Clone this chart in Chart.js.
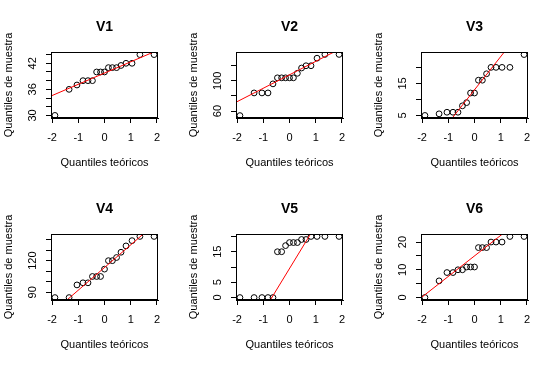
<!DOCTYPE html>
<html>
<head>
<meta charset="utf-8">
<script src="https://cdn.jsdelivr.net/npm/chart.js@4/dist/chart.umd.min.js"></script>
<style>
  body { margin: 0; background: #fff; }
  #wrap { position: relative; width: 554px; height: 365px; overflow: hidden; }
  .panel { position: absolute; width: 185px; height: 182px; }
</style>
</head>
<body>
<div id="wrap"></div>
<script>
Chart.defaults.font.family = "'Liberation Sans', Arial, sans-serif";
Chart.defaults.color = '#000';

// cuantiles teóricos (eje x), iguales en los seis paneles
const teoricos = [-1.89, -1.35, -1.05, -0.82, -0.63, -0.46, -0.30, -0.15, 0, 0.15, 0.30, 0.46, 0.63, 0.82, 1.05, 1.35, 1.89];

// cuantiles de muestra (ordenados)
const v1 = [30, 36, 37, 38, 38, 38, 40, 40, 40, 41, 41, 41, 41.5, 42, 42, 44, 44];
const v2 = [54, 84, 84, 84, 96, 104, 104, 104, 104, 104, 110, 117, 120, 120, 130, 135, 135];
const v3 = [5, 5.5, 6, 6, 6, 8, 9, 12, 12, 16, 16, 18, 20, 20, 20, 20, 24];
const v4 = [85, 85, 97, 99, 99, 105, 105, 105, 112, 120, 120, 123, 128, 134, 139, 143, 143];
const v5 = [0, 0, 0, 0, 0, 15, 15, 17, 18, 18, 18, 19, 19, 20, 20, 20, 20];
const v6 = [0, 6, 9, 9, 10, 10, 11, 11, 11, 18, 18, 18, 20, 20, 20, 22, 22];

const titles = ['V1', 'V2', 'V3', 'V4', 'V5', 'V6'];
const series = [v1, v2, v3, v4, v5, v6];

// recta qqline (ordenada y pendiente)
const lineIntercept = [39.75, 108, 13, 113.5, 9.5, 15];
const lineSlope = [2.59, 17.8, 10.38, 21.5, 14.08, 7.41];

// rangos y marcas del eje y
const yMin = [29.4, 50.8, 4.2, 82.7, -0.8, -0.9];
const yMax = [44.6, 138.2, 24.8, 145.3, 20.8, 22.9];
const yTicks = [
  [30, 32, 34, 36, 38, 40, 42, 44],
  [60, 80, 100, 120],
  [5, 10, 15, 20],
  [90, 100, 110, 120, 130, 140],
  [0, 5, 10, 15, 20],
  [0, 5, 10, 15, 20]
];
const yTickLabels = [
  ['30', '', '', '36', '', '', '42', ''],
  ['60', '', '100', ''],
  ['5', '', '15', ''],
  ['90', '', '', '120', '', ''],
  ['0', '5', '', '15', ''],
  ['0', '', '10', '', '20']
];
const xTicks = [-2, -1, 0, 1, 2];
const xMin = -2.04, xMax = 2.04;

const xLabel = 'Quantiles teóricos';
const yLabel = 'Quantiles de muestra';

// textos y caja al estilo de R
const rDecor = {
  id: 'rDecor',
  afterDraw(chart) {
    const { ctx, chartArea: a } = chart;
    const i = chart.options.plugins.rDecor.index;
    const ys = chart.scales.y;
    const cx = (a.left + a.right) / 2;
    const cy = (a.top + a.bottom) / 2;
    ctx.save();
    ctx.strokeStyle = '#000';
    ctx.lineWidth = 1;
    ctx.strokeRect(a.left + 0.5, a.top + 0.5, a.right - a.left - 1, a.bottom - a.top - 1);
    ctx.fillStyle = '#000';
    ctx.textAlign = 'center';
    ctx.textBaseline = 'middle';
    ctx.font = "bold 14px 'Liberation Sans', Arial, sans-serif";
    ctx.fillText(titles[i], cx, 27);
    ctx.font = "11px 'Liberation Sans', Arial, sans-serif";
    ctx.fillText(xLabel, cx, 163);
    // etiquetas del eje y, giradas
    yTicks[i].forEach((v, k) => {
      const lab = yTickLabels[i][k];
      if (!lab) return;
      const py = ys.getPixelForValue(v);
      ctx.save();
      ctx.translate(33, py);
      ctx.rotate(-Math.PI / 2);
      ctx.fillText(lab, 0, 0);
      ctx.restore();
    });
    ctx.save();
    ctx.translate(9, cy);
    ctx.rotate(-Math.PI / 2);
    ctx.fillText(yLabel, 0, 0);
    ctx.restore();
    ctx.restore();
  }
};

const wrap = document.getElementById('wrap');

series.forEach((vals, i) => {
  const div = document.createElement('div');
  div.className = 'panel';
  div.style.left = (i % 3) * 185 + 'px';
  div.style.top = Math.floor(i / 3) * 182 + 'px';
  const canvas = document.createElement('canvas');
  canvas.width = 185;
  canvas.height = 182;
  div.appendChild(canvas);
  wrap.appendChild(div);

  const pts = vals.map((v, k) => ({ x: teoricos[k], y: v }));
  const lineData = [xMin, xMax].map(x => ({ x: x, y: lineIntercept[i] + lineSlope[i] * x }));

  new Chart(canvas.getContext('2d'), {
    type: 'scatter',
    data: {
      datasets: [
        {
          data: lineData,
          showLine: true,
          borderColor: '#ff0000',
          borderWidth: 1,
          pointRadius: 0,
          order: 0
        },
        {
          data: pts,
          pointStyle: 'circle',
          pointRadius: 2.9,
          borderColor: '#000',
          borderWidth: 1,
          backgroundColor: 'rgba(0,0,0,0)',
          order: 1
        }
      ]
    },
    options: {
      responsive: false,
      animation: false,
      layout: { padding: { left: 0, top: 52, right: 27, bottom: 0 } },
      plugins: {
        legend: { display: false },
        tooltip: { enabled: false },
        rDecor: { index: i }
      },
      scales: {
        x: {
          type: 'linear',
          min: xMin,
          max: xMax,
          afterBuildTicks: (s) => { s.ticks = xTicks.map(v => ({ value: v })); },
          afterFit: (s) => { s.height = 64; },
          ticks: {
            autoSkip: false,
            maxRotation: 0,
            padding: 8,
            font: { size: 11 },
            callback: (v) => String(v)
          },
          grid: { drawOnChartArea: false, drawTicks: true, tickLength: 5, color: '#000' },
          border: { display: true, color: '#000' }
        },
        y: {
          type: 'linear',
          min: yMin[i],
          max: yMax[i],
          afterBuildTicks: (s) => { s.ticks = yTicks[i].map(v => ({ value: v })); },
          afterFit: (s) => { s.width = 51; },
          ticks: { autoSkip: false, callback: () => '' },
          grid: { drawOnChartArea: false, drawTicks: true, tickLength: 5, color: '#000' },
          border: { display: true, color: '#000' }
        }
      }
    },
    plugins: [rDecor]
  });
});
</script>
</body>
</html>
